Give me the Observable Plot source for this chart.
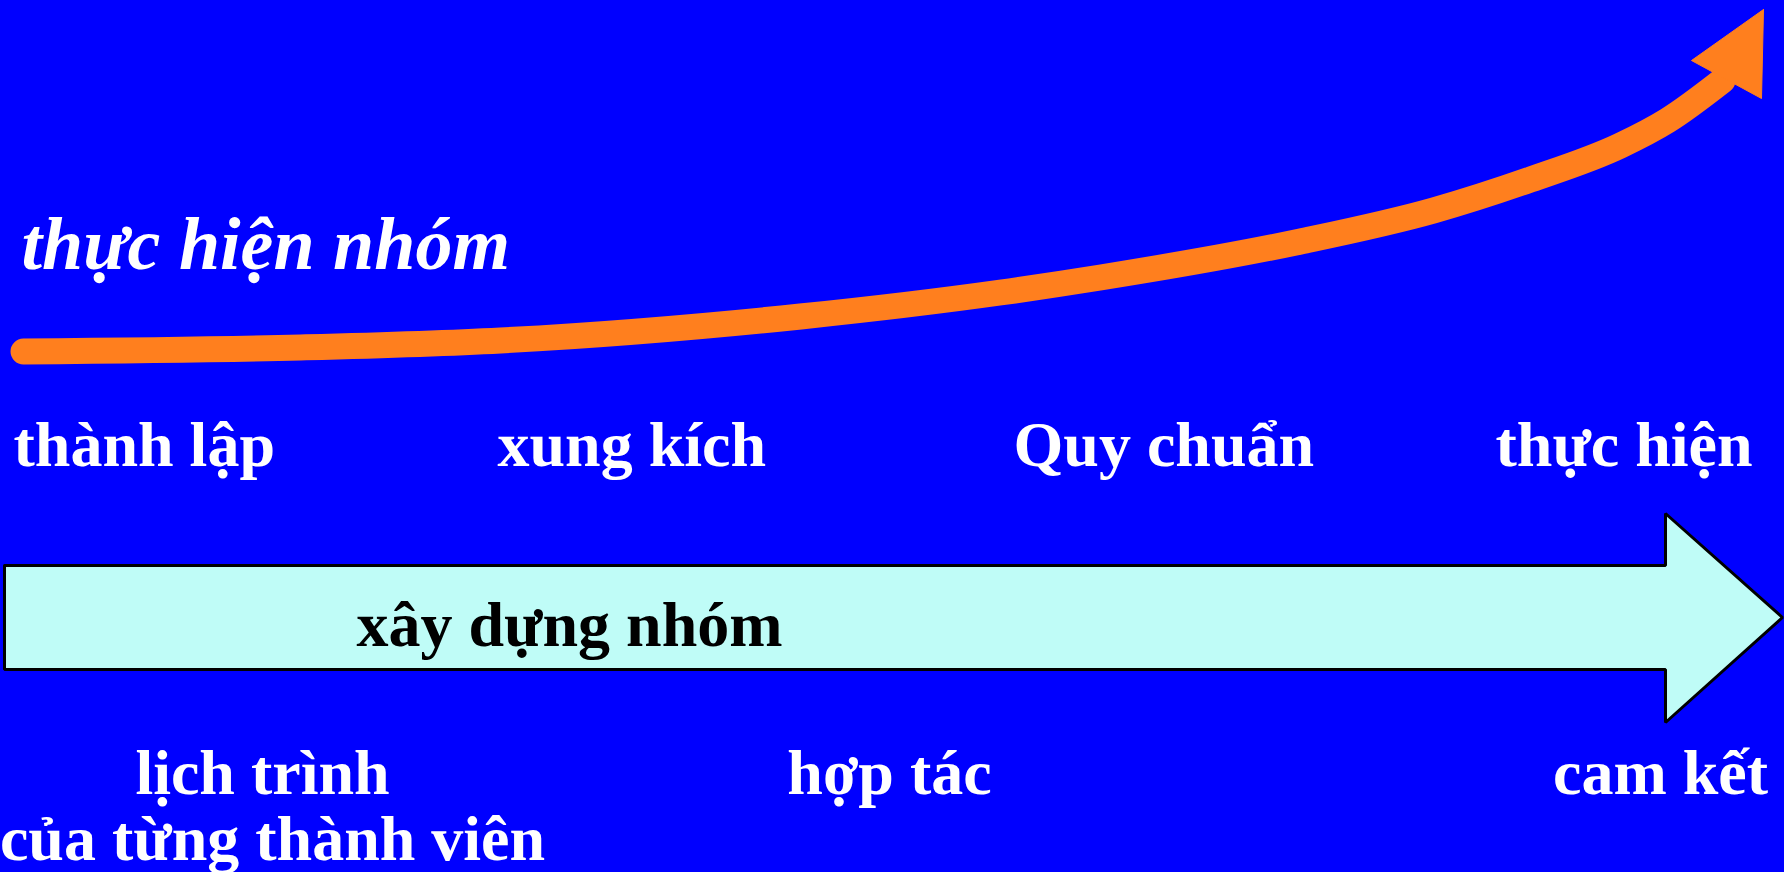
<!DOCTYPE html>
<html>
<head>
<meta charset="utf-8">
<script src="https://cdn.jsdelivr.net/npm/d3@7"></script>
<script src="https://cdn.jsdelivr.net/npm/@observablehq/plot@0.6"></script>
<style>
  html, body { margin: 0; padding: 0; background: #0000ff; overflow: hidden; }
  #chart svg { display: block; }
</style>
</head>
<body>
<div id="chart"></div>
<script>
// Canvas coordinates (pixels, y measured from the top)
const W = 1784, H = 872;

// Team-performance curve (rising orange arrow)
const curveX = [23, 300, 500, 800, 1000, 1100, 1300, 1433, 1530, 1620, 1667, 1722];
const curveY = [351, 347, 340, 316, 292, 277, 241, 210, 179, 145, 120, 80];
const headX = [1763, 1691, 1761, 1763];
const headY = [9, 60, 98, 9];

// Team-building arrow (light cyan block arrow)
const blockX = [4, 1665, 1665, 1782, 1665, 1665, 4, 4];
const blockY = [565, 565, 513, 617, 722, 669, 669, 565];

// Texts
const titleText = ["thực hiện nhóm"];
const titleX = [21];
const titleY = [268];

const stages = ["thành lập", "xung kích", "Quy chuẩn", "thực hiện"];
const stageX = [13, 497, 1013, 1495];
const stageY = 465;

const barLabel = ["xây dựng nhóm"];
const barLabelX = [569];
const barLabelY = [645];

const outcomes = ["lịch trình", "của từng thành viên", "hợp tác", "cam kết"];
const outcomeX = [262, 272, 889, 1660];
const outcomeY = [793, 859, 793, 793];

const zip = (xs, ys, extra = {}) => xs.map((x, i) => ({x, y: ys[i], ...Object.fromEntries(Object.entries(extra).map(([k, v]) => [k, v[i]]))}));

const curve = zip(curveX, curveY);
const head = zip(headX, headY);
const block = zip(blockX, blockY);
const title = zip(titleX, titleY, {text: titleText});
const stageRows = stages.map((t, i) => ({text: t, x: stageX[i], y: stageY}));
const barRows = zip(barLabelX, barLabelY, {text: barLabel});
const outcomeRows = zip(outcomeX, outcomeY, {text: outcomes});

const serif = "'Liberation Serif', 'Times New Roman', serif";

const chart = Plot.plot({
  width: W,
  height: H,
  margin: 0,
  x: {domain: [0, W], axis: null},
  y: {domain: [H, 0], axis: null},
  style: {background: "#0000ff", overflow: "visible"},
  marks: [
    // block arrow
    Plot.line(block, {x: "x", y: "y", z: null, fill: "#bffcf7", stroke: "#000000", strokeWidth: 3, strokeLinejoin: "miter", curve: "linear"}),
    // rising curve
    Plot.line(curve, {x: "x", y: "y", z: null, stroke: "#ff7f1e", strokeWidth: 26, strokeLinecap: "round", curve: "monotone-x"}),
    Plot.line(head, {x: "x", y: "y", z: null, fill: "#ff7f1e", stroke: "#ff7f1e", strokeWidth: 1, curve: "linear"}),
    // title over the curve
    Plot.text(title, {x: "x", y: "y", text: "text", textAnchor: "start", lineAnchor: "bottom", fill: "white", fontFamily: serif, fontWeight: "bold", fontStyle: "italic", fontSize: 74}),
    // stage names
    Plot.text(stageRows, {x: "x", y: "y", text: "text", textAnchor: "start", lineAnchor: "bottom", fill: "white", fontFamily: serif, fontWeight: "bold", fontSize: 64}),
    // label inside the block arrow
    Plot.text(barRows, {x: "x", y: "y", text: "text", textAnchor: "middle", lineAnchor: "bottom", fill: "black", fontFamily: serif, fontWeight: "bold", fontSize: 64}),
    // outcomes below
    Plot.text(outcomeRows, {x: "x", y: "y", text: "text", textAnchor: "middle", lineAnchor: "bottom", fill: "white", fontFamily: serif, fontWeight: "bold", fontSize: 64})
  ]
});

document.getElementById("chart").appendChild(chart);
</script>
</body>
</html>
